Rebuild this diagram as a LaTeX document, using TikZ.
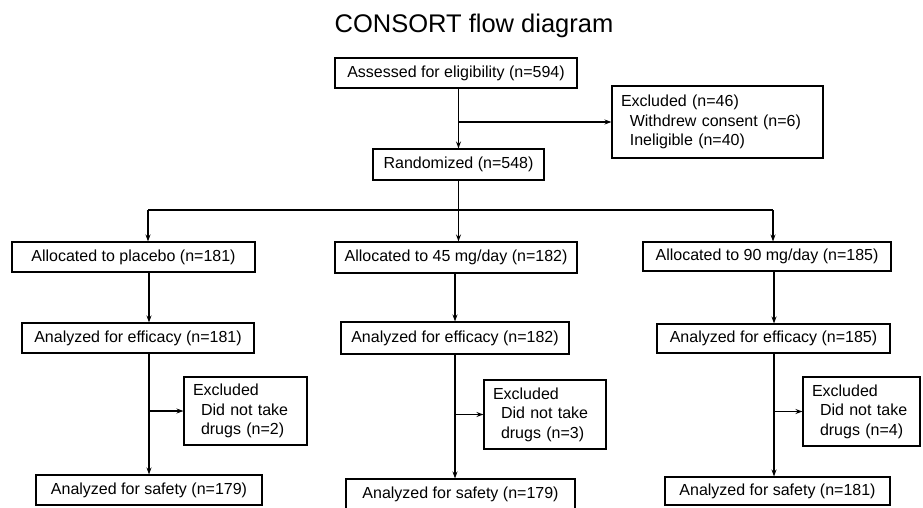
\documentclass[tikz,border=0pt]{standalone}
\usepackage{fontspec}
\setmainfont{Liberation Sans}
\usetikzlibrary{arrows.meta}

\tikzset{
  flowbox/.style={draw, line width=1.1pt, inner sep=0pt,
    font=\fontsize{16}{19.5}\selectfont},
  exclbox/.style={flowbox, align=left, inner xsep=9pt},
  flowline/.style={line width=1.1pt},
  flowarrow/.style={flowline, -{Stealth[length=7pt,width=5pt]}},
}

\begin{document}
\begin{tikzpicture}[x=1pt, y=-1pt]
   \useasboundingbox (0,0) rectangle (923,508);

   % title
   \node[font=\fontsize{25.5}{30}\selectfont] (title) at (474,26) {CONSORT flow diagram};

   % enrolment
   \node[flowbox, minimum width=242, minimum height=30] (assess) at (456,73)
     {Assessed for eligibility (n=594)};
   \node[exclbox, text width=193, minimum height=72] (excl) at (717.5,122)
     {Excluded (n=46)\\\hspace*{0.55em}Withdrew consent (n=6)\\\hspace*{0.55em}Ineligible (n=40)};
   \node[flowbox, minimum width=171, minimum height=31] (rand) at (458.5,164.5)
     {Randomized (n=548)};

   % allocation
   \node[flowbox, minimum width=243, minimum height=30] (alloc1) at (133.5,257)
     {Allocated to placebo (n=181)};
   \node[flowbox, minimum width=242, minimum height=31] (alloc2) at (456,257.5)
     {Allocated to 45 mg/day (n=182)};
   \node[flowbox, minimum width=248, minimum height=29] (alloc3) at (767,256.5)
     {Allocated to 90 mg/day (n=185)};

   % analysis
   \node[flowbox, minimum width=232, minimum height=30] (eff1) at (138,338)
     {Analyzed for efficacy (n=181)};
   \node[flowbox, minimum width=228, minimum height=32] (eff2) at (455,338)
     {Analyzed for efficacy (n=182)};
   \node[flowbox, minimum width=233, minimum height=29] (eff3) at (773.5,338.5)
     {Analyzed for efficacy (n=185)};

   \node[exclbox, text width=105, minimum height=68] (exc1) at (245.5,411)
     {Excluded\\\hspace*{0.5em}Did not take\\\hspace*{0.5em}drugs (n=2)};
   \node[exclbox, text width=104, minimum height=69] (exc2) at (545,414.5)
     {Excluded\\\hspace*{0.5em}Did not take\\\hspace*{0.5em}drugs (n=3)};
   \node[exclbox, text width=99, minimum height=69] (exc3) at (861.5,411.5)
     {Excluded\\\hspace*{0.5em}Did not take\\\hspace*{0.5em}drugs (n=4)};

   \node[flowbox, minimum width=226, minimum height=30] (saf1) at (149,490)
     {Analyzed for safety (n=179)};
   \node[flowbox, minimum width=229, minimum height=31] (saf2) at (460.5,494.5)
     {Analyzed for safety (n=179)};
   \node[flowbox, minimum width=225, minimum height=28] (saf3) at (777.5,491)
     {Analyzed for safety (n=181)};

   % connectors
   \draw[flowarrow] (assess.south -| rand.north) -- (rand.north);
   \draw[flowarrow] (rand |- excl.west) -- (excl.west);

   \coordinate (forkL) at (148,210);
   \coordinate (forkR) at (773,210);
   \draw[flowline] (forkL) -- (forkR);
   \draw[flowline] (rand.south) -- (rand.south |- forkL);
   \draw[flowarrow] (forkL) -- (forkL |- alloc1.north);
   \draw[flowarrow] (rand.south |- forkL) -- (rand.south |- alloc2.north);
   \draw[flowarrow] (forkR) -- (forkR |- alloc3.north);

   \foreach \i/\x in {1/149, 2/455, 3/774} {
     \coordinate (trunk\i) at (\x,300);
     \draw[flowarrow] (trunk\i |- alloc\i.south) -- (trunk\i |- eff\i.north);
     \draw[flowarrow] (trunk\i |- eff\i.south) -- (trunk\i |- saf\i.north);
     \draw[flowarrow] (trunk\i |- exc\i.west) -- (exc\i.west);
   }
\end{tikzpicture}
\end{document}
